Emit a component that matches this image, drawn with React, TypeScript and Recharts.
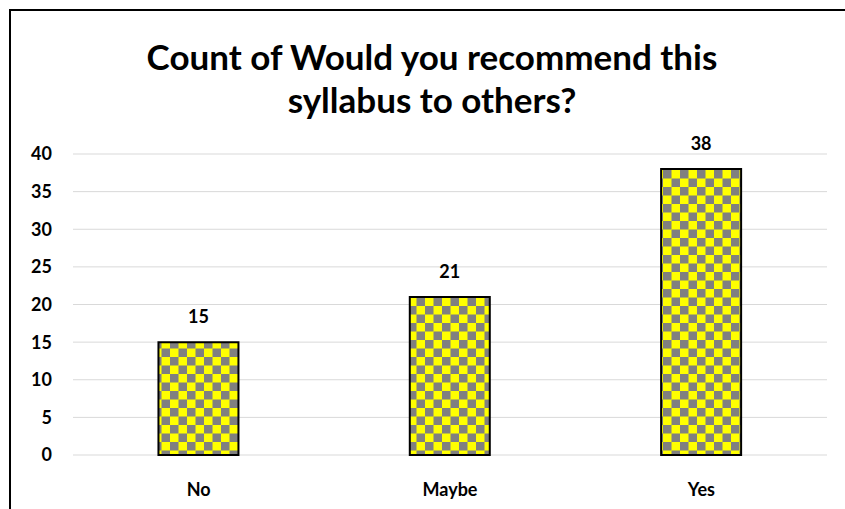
import React from "react";
import { BarChart, Bar, XAxis, YAxis, CartesianGrid, LabelList } from "recharts";

// Chart data
const categories = ["No", "Maybe", "Yes"];
const counts = [15, 21, 38];
const yTicks = [0, 5, 10, 15, 20, 25, 30, 35, 40];
const titleLines = ["Count of Would you recommend this", "syllabus to others?"];

const data = categories.map((name, i) => ({ name, count: counts[i] }));

const FONT = "Lato, 'Open Sans', sans-serif";

export default function App() {
  const tickStyle = { fontFamily: FONT, fontSize: 18, fontWeight: 700, fill: "#000" };

  return (
    <div
      style={{
        position: "absolute",
        left: 0,
        top: 0,
        width: 845,
        height: 509,
        background: "#fff",
        overflow: "hidden",
      }}
    >
      {/* outer chart frame, runs off the right and bottom edges */}
      <div
        style={{
          position: "absolute",
          left: 9,
          top: 9,
          width: 900,
          height: 600,
          border: "2px solid #000",
        }}
      />

      {/* Title */}
      <div
        style={{
          position: "absolute",
          left: 0,
          top: 35,
          width: 864,
          textAlign: "center",
          fontFamily: FONT,
          fontWeight: 700,
          fontSize: 35,
          lineHeight: "43px",
          color: "#000",
        }}
      >
        {titleLines.map((line) => (
          <div key={line}>{line}</div>
        ))}
      </div>

      <div style={{ position: "absolute", left: 0, top: 0 }}>
        <BarChart
          width={845}
          height={509}
          data={data}
          margin={{ top: 154, right: 18, bottom: 0, left: 0 }}
          barCategoryGap="34%"
        >
          <defs>
            <pattern id="checker" patternUnits="userSpaceOnUse" width={17} height={17}>
              <rect x={0} y={0} width={17} height={17} fill="#FFFF00" />
              <rect x={0} y={0} width={8.5} height={8.5} fill="#808080" />
              <rect x={8.5} y={8.5} width={8.5} height={8.5} fill="#808080" />
            </pattern>
          </defs>
          <CartesianGrid vertical={false} stroke="#d9d9d9" strokeWidth={1} />
          <XAxis
            dataKey="name"
            axisLine={false}
            tickLine={false}
            tickSize={0}
            tickMargin={28}
            height={54}
            tick={tickStyle}
          />
          <YAxis
            domain={[0, 40]}
            ticks={yTicks}
            interval={0}
            axisLine={false}
            tickLine={false}
            tickSize={0}
            tickMargin={21}
            width={73}
            tick={tickStyle}
          />
          <Bar dataKey="count" fill="url(#checker)" stroke="#000" strokeWidth={2} isAnimationActive={false}>
            <LabelList
              dataKey="count"
              position="top"
              offset={19}
              style={{ fontFamily: FONT, fontSize: 18, fontWeight: 700, fill: "#000" }}
            />
          </Bar>
        </BarChart>
      </div>
    </div>
  );
}
